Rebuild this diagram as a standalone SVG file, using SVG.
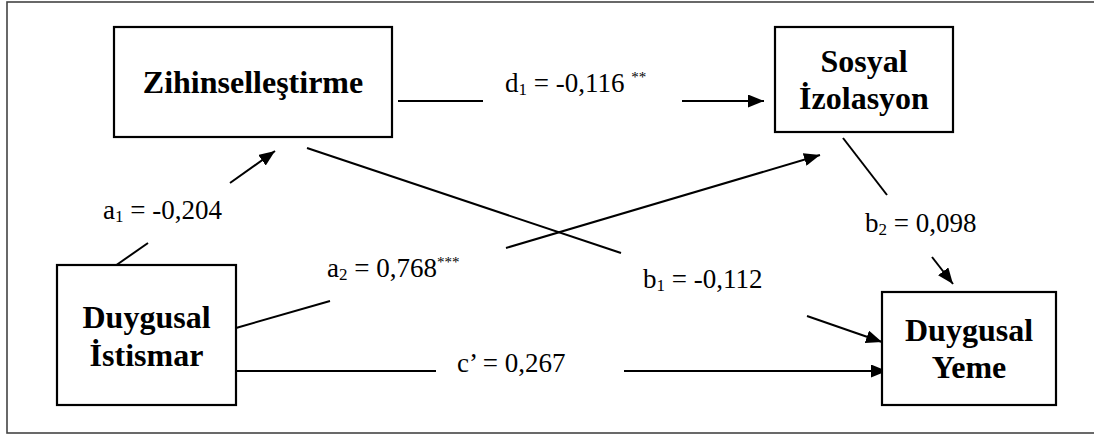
<svg xmlns="http://www.w3.org/2000/svg" width="1094" height="434" viewBox="0 0 1094 434">
<style>
.box{fill:#fff;stroke:#000;stroke-width:2.2}
.nt{font-family:"Liberation Serif","Times New Roman",serif;font-weight:bold;font-size:32px;text-anchor:middle;fill:#000}
.lb{font-family:"Liberation Serif","Times New Roman",serif;font-size:27px;fill:#000}
.sub{font-size:17px}
.sup{font-size:15px}
.ln{stroke:#000;stroke-width:2;fill:none}
.ar{marker-end:url(#ah)}
</style>
<defs>
<marker id="ah" markerUnits="userSpaceOnUse" markerWidth="17" markerHeight="13" refX="16" refY="6.5" orient="auto">
<path d="M0,0 L16,6.5 L0,13 z" fill="#000"/>
</marker>
</defs>
<rect x="7" y="2" width="1090" height="431" fill="#fff" stroke="#444" stroke-width="1.6"/>
<g id="connectors">
<line class="ln" x1="398" y1="101" x2="483" y2="101"/>
<line class="ln ar" x1="682" y1="101" x2="764" y2="101"/>
<line class="ln" x1="115" y1="266" x2="148" y2="243"/>
<line class="ln ar" x1="230" y1="183" x2="275" y2="151"/>
<line class="ln" x1="236" y1="328" x2="330" y2="301"/>
<line class="ln ar" x1="506" y1="248" x2="820" y2="155"/>
<line class="ln" x1="307" y1="148" x2="621" y2="253"/>
<line class="ln ar" x1="807" y1="316" x2="882" y2="342"/>
<line class="ln" x1="843" y1="138" x2="887" y2="195"/>
<line class="ln ar" x1="932" y1="257" x2="953" y2="284"/>
<line class="ln" x1="236" y1="371" x2="436" y2="371"/>
<line class="ln ar" x1="624" y1="371" x2="887" y2="371"/>
<text class="lb" x="505" y="92">d<tspan class="sub" dy="3">1</tspan><tspan dy="-3"> = -0,116 </tspan><tspan class="sup" dy="-10">**</tspan></text>
<text class="lb" x="103" y="219">a<tspan class="sub" dy="3">1</tspan><tspan dy="-3"> = -0,204</tspan></text>
<text class="lb" x="327" y="277">a<tspan class="sub" dy="3">2</tspan><tspan dy="-3"> = 0,768</tspan><tspan class="sup" dy="-10">***</tspan></text>
<text class="lb" x="643" y="288">b<tspan class="sub" dy="3">1</tspan><tspan dy="-3"> = -0,112</tspan></text>
<text class="lb" x="865" y="232">b<tspan class="sub" dy="3">2</tspan><tspan dy="-3"> = 0,098</tspan></text>
<text class="lb" x="457" y="372">c’ = 0,267</text>
</g>
<g id="zihinsellestirme">
<rect class="box" x="114" y="27" width="278" height="110"/>
<text class="nt" x="253" y="93">Zihinselleştirme</text>
</g>
<g id="sosyal-izolasyon">
<rect class="box" x="775" y="27" width="178" height="105"/>
<text class="nt" x="864" y="72">Sosyal</text>
<text class="nt" x="864" y="109">İzolasyon</text>
</g>
<g id="duygusal-istismar">
<rect class="box" x="57" y="265" width="179" height="140"/>
<text class="nt" x="146.5" y="328">Duygusal</text>
<text class="nt" x="146.5" y="366">İstismar</text>
</g>
<g id="duygusal-yeme">
<rect class="box" x="882" y="292" width="174" height="113"/>
<text class="nt" x="969" y="341">Duygusal</text>
<text class="nt" x="969" y="378">Yeme</text>
</g>
</svg>
